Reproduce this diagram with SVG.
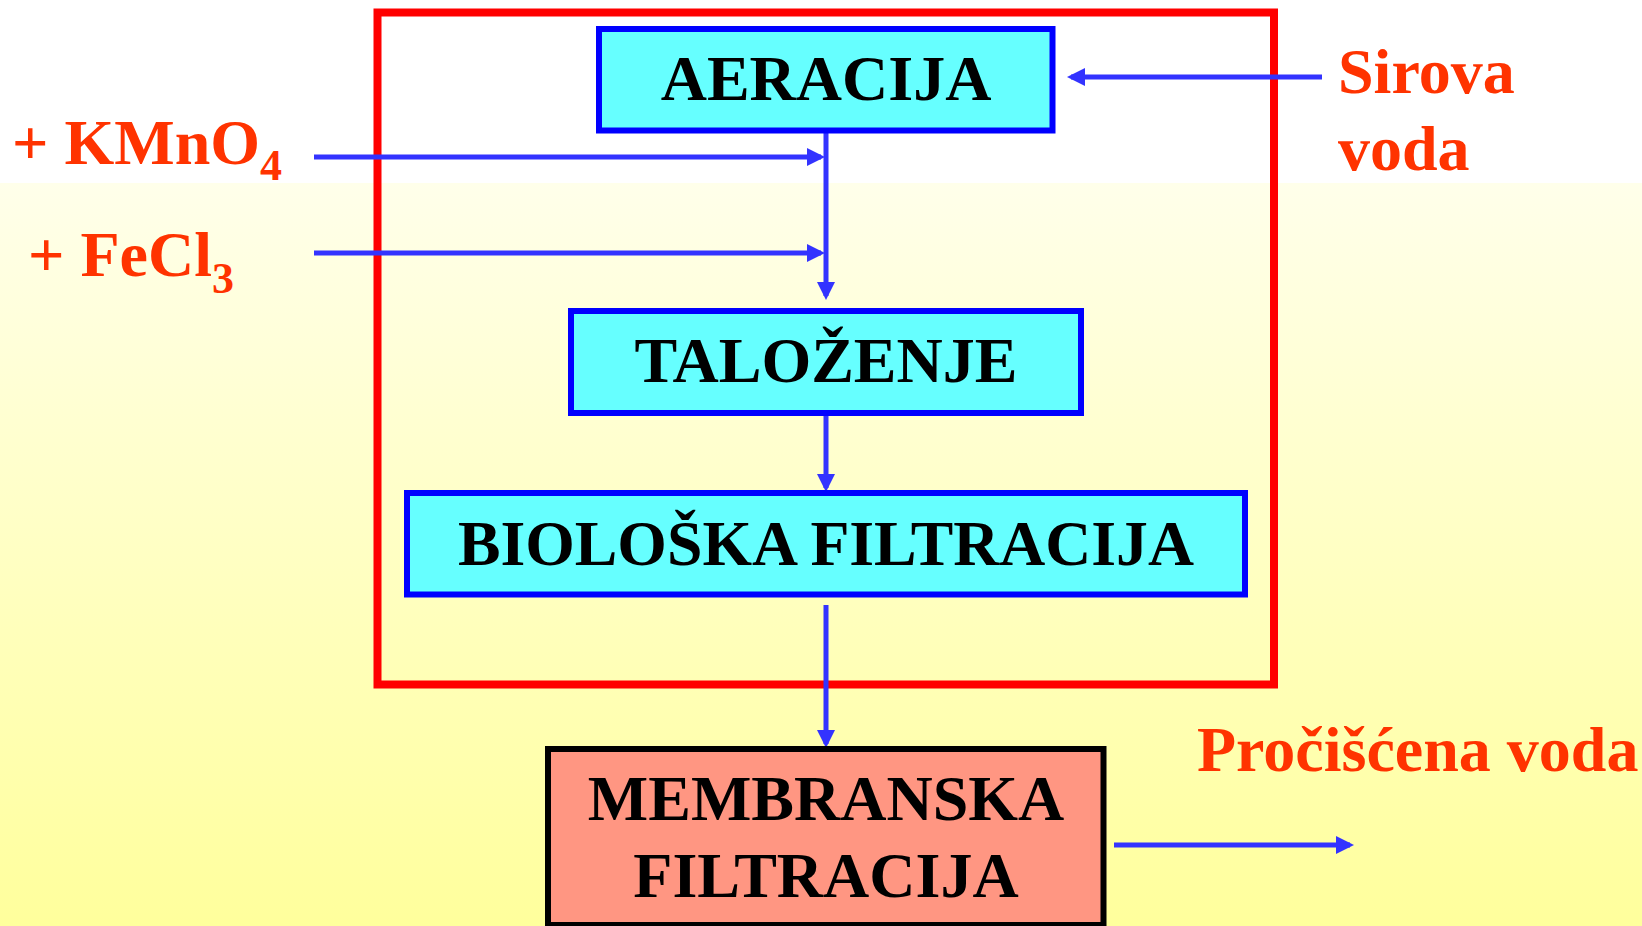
<svg xmlns="http://www.w3.org/2000/svg" width="1642" height="926" viewBox="0 0 1642 926">
<style>
.t{font-family:"Liberation Serif","Times New Roman",serif;font-weight:bold;font-size:64px}
.k{fill:#000}
.o{fill:#FF3300}
.box{fill:#66FFFF;stroke:#0000FF;stroke-width:6}
.con{fill:none;stroke:#3333FF;stroke-width:5}
</style>
<defs>
<linearGradient id="bg" x1="0" y1="0" x2="0" y2="1">
<stop offset="0" stop-color="#FFFFEA"/>
<stop offset="1" stop-color="#FFFF9C"/>
</linearGradient>
<marker id="ah" viewBox="0 0 18 18" markerWidth="18" markerHeight="18" refX="14" refY="9" orient="auto" markerUnits="userSpaceOnUse">
<path d="M0,0 L18,9 L0,18 z" fill="#3333FF"/>
</marker>
</defs>
<rect x="0" y="0" width="1642" height="926" fill="#FFFFFF"/>
<rect x="0" y="183" width="1642" height="743" fill="url(#bg)"/>
<g id="frame">
<rect x="377.5" y="12.5" width="896.5" height="672" fill="none" stroke="#FF0000" stroke-width="8"/>
</g>
<g id="connectors">
<path class="con" d="M314,157 H821" marker-end="url(#ah)"/>
<path class="con" d="M314,253 H821" marker-end="url(#ah)"/>
<path class="con" d="M826,122 V296" marker-end="url(#ah)"/>
<path class="con" d="M1322,77 H1071" marker-end="url(#ah)"/>
<path class="con" d="M826,413 V488" marker-end="url(#ah)"/>
<path class="con" d="M826,605 V744" marker-end="url(#ah)"/>
<path class="con" d="M1114,845 H1350" marker-end="url(#ah)"/>
</g>
<g id="aeracija">
<rect class="box" x="599" y="29" width="453.5" height="101.5"/>
<text class="t k" x="826" y="100" text-anchor="middle">AERACIJA</text>
</g>
<g id="talozenje">
<rect class="box" x="571" y="311" width="510" height="102"/>
<text class="t k" x="826" y="382" text-anchor="middle">TALOŽENJE</text>
</g>
<g id="bioloska">
<rect class="box" x="407" y="493" width="838" height="101.5"/>
<text class="t k" x="826" y="565" text-anchor="middle" textLength="736" lengthAdjust="spacingAndGlyphs">BIOLOŠKA FILTRACIJA</text>
</g>
<g id="membranska">
<rect x="548" y="749" width="555.5" height="176" fill="#FF9682" stroke="#000000" stroke-width="6"/>
<text class="t k" x="826" y="820" text-anchor="middle">MEMBRANSKA</text>
<text class="t k" x="826" y="897" text-anchor="middle">FILTRACIJA</text>
</g>
<g id="kmno4">
<text class="t o" x="12" y="164">+ KMnO<tspan font-size="44" dy="16">4</tspan></text>
</g>
<g id="fecl3">
<text class="t o" x="28" y="276">+ FeCl<tspan font-size="44" dy="17">3</tspan></text>
</g>
<g id="sirova">
<text class="t o" x="1338" y="93">Sirova</text>
<text class="t o" x="1338" y="170">voda</text>
</g>
<g id="procisc">
<text class="t o" x="1197" y="771">Pročišćena voda</text>
</g>
</svg>
